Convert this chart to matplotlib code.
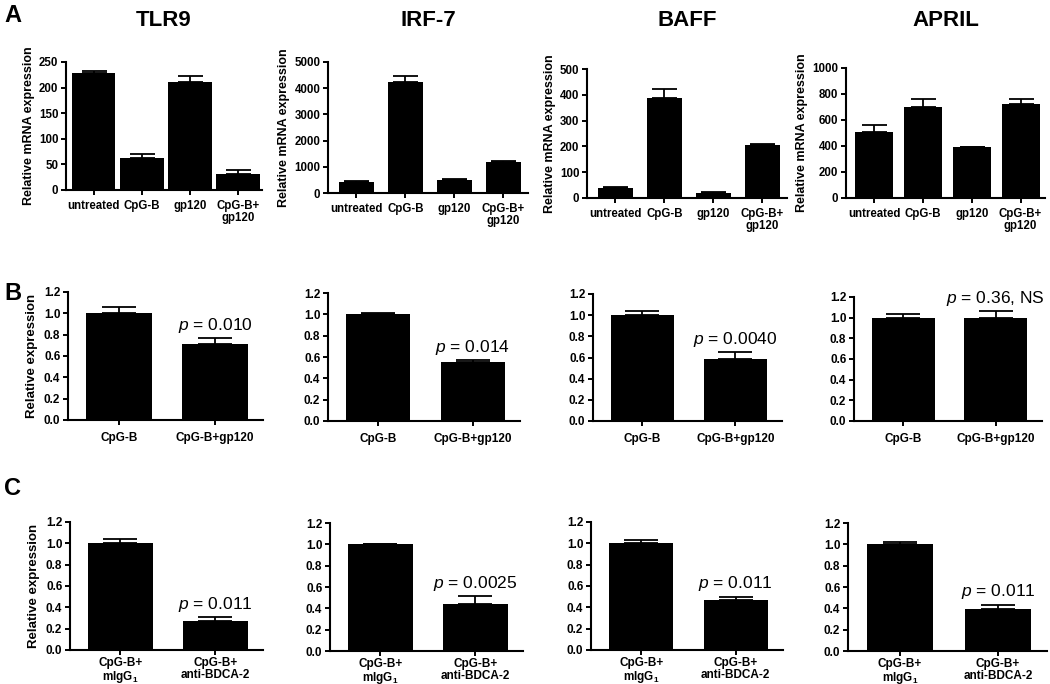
import numpy as np
import matplotlib
matplotlib.use('Agg')
import matplotlib.pyplot as plt

plt.rcParams['font.family'] = ['Liberation Sans', 'DejaVu Sans']
plt.rcParams['mathtext.fontset'] = 'custom'
plt.rcParams['mathtext.rm'] = 'Liberation Sans'
plt.rcParams['mathtext.it'] = 'Liberation Sans:italic'
plt.rcParams['mathtext.bf'] = 'Liberation Sans:bold'

# ---- data ----
genes = ['TLR9', 'IRF-7', 'BAFF', 'APRIL']

groups_a = ['untreated', 'CpG-B', 'gp120', 'CpG-B+\ngp120']
a_means = [[228, 62, 210, 32],
           [430, 4220, 500, 1190],
           [40, 388, 20, 207],
           [505, 700, 390, 725]]
a_errs = [[5, 8, 13, 7],
          [20, 260, 50, 30],
          [2, 33, 2, 3],
          [60, 60, 5, 40]]
a_yticks = [[0, 50, 100, 150, 200, 250],
            [0, 1000, 2000, 3000, 4000, 5000],
            [0, 100, 200, 300, 400, 500],
            [0, 200, 400, 600, 800, 1000]]

groups_b = ['CpG-B', 'CpG-B+gp120']
b_means = [[1.0, 0.71], [1.0, 0.555], [1.0, 0.585], [1.0, 0.995]]
b_errs = [[0.055, 0.06], [0.015, 0.015], [0.035, 0.065], [0.04, 0.065]]
b_pvals = ['0.010', '0.014', '0.0040', '0.36, NS']

groups_c = ['CpG-B+\nmIgG$_{\\mathbf{1}}$', 'CpG-B+\nanti-BDCA-2']
c_means = [[1.0, 0.27], [1.0, 0.44], [1.0, 0.47], [1.0, 0.39]]
c_errs = [[0.04, 0.035], [0.005, 0.075], [0.03, 0.03], [0.025, 0.045]]
c_pvals = ['0.011', '0.0025', '0.011', '0.011']

rel_yticks = [0.0, 0.2, 0.4, 0.6, 0.8, 1.0, 1.2]

W, H = 1050, 684
fig = plt.figure(figsize=(W / 100, H / 100), dpi=100)


def add_ax(x0, x1, ytop, ybot):
    # pixel box -> figure fraction
    return fig.add_axes([x0 / W, 1 - ybot / H, (x1 - x0) / W, (ybot - ytop) / H])


def style(ax, tick_fs, xpad=2):
    for s in ['top', 'right']:
        ax.spines[s].set_visible(False)
    for s in ['left', 'bottom']:
        ax.spines[s].set_linewidth(1.5)
    ax.tick_params(axis='both', direction='out', length=3.5, width=1.4,
                   labelsize=tick_fs, pad=2)
    ax.tick_params(axis='x', pad=xpad)
    for lab in ax.get_xticklabels() + ax.get_yticklabels():
        lab.set_fontweight('bold')
        lab.set_linespacing(1.0)


def bars(ax, labels, means, errs, width, capsize, xlim):
    x = np.arange(len(labels))
    ax.bar(x, means, width=width, color='black', zorder=2)
    ax.errorbar(x, means, yerr=[np.zeros(len(errs)), errs], fmt='none',
                ecolor='black', elinewidth=1.3, capsize=capsize, capthick=1.3,
                zorder=3)
    ax.set_xticks(x)
    ax.set_xticklabels(labels)
    ax.set_xlim(*xlim)
    return x


# row A
boxes_a = [(66, 262, 62, 190), (328, 528, 62, 193),
           (587, 787, 69, 198), (846, 1045, 68, 198)]
widths_a = [0.9, 0.7, 0.7, 0.78]
for i, g in enumerate(genes):
    ax = add_ax(*boxes_a[i])
    bars(ax, groups_a, a_means[i], a_errs[i], widths_a[i], 9, (-0.58, 3.5))
    ax.set_ylim(0, a_yticks[i][-1])
    ax.set_yticks(a_yticks[i])
    ax.set_ylabel('Relative mRNA expression', fontsize=9, fontweight='bold', labelpad=3)
    style(ax, 8.3, xpad=4)
    x0, x1, yt, yb = boxes_a[i]
    fig.text((x0 + x1) / 2 / W, 1 - 26 / H, g, fontsize=16, fontweight='bold',
             ha='center', va='baseline')

# rows B and C
boxes_b = [(68, 263, 292, 420), (328, 520, 293, 421),
           (593, 782, 294, 421), (854, 1042, 297, 421)]
boxes_c = [(70, 263, 522, 650), (330, 523, 523, 651),
           (591, 783, 522, 650), (848, 1047, 523, 651)]
for row, (boxes, groups, means, errs, pvals) in enumerate(
        [(boxes_b, groups_b, b_means, b_errs, b_pvals),
         (boxes_c, groups_c, c_means, c_errs, c_pvals)]):
    for i in range(4):
        ax = add_ax(*boxes[i])
        bars(ax, groups, means[i], errs[i], 0.68, 12, (-0.53, 1.5))
        ax.set_ylim(0, 1.2)
        ax.set_yticks(rel_yticks)
        ax.set_yticklabels(['%.1f' % t for t in rel_yticks])
        if i == 0:
            ax.set_ylabel('Relative expression', fontsize=9.5, fontweight='bold', labelpad=4)
        style(ax, 8.5, xpad=5 if row == 0 else 1.5)
        ax.annotate('$p$ = ' + pvals[i], xy=(1, means[i][1] + errs[i][1]),
                    xytext=(0, 6), textcoords='offset points', ha='center',
                    va='baseline', fontsize=12.5, annotation_clip=False)

# panel letters
for letter, yb in [('A', 22), ('B', 300), ('C', 495)]:
    fig.text(4 / W, 1 - yb / H, letter, fontsize=17, fontweight='bold',
             ha='left', va='baseline')

fig.savefig('out.png', dpi=100)
